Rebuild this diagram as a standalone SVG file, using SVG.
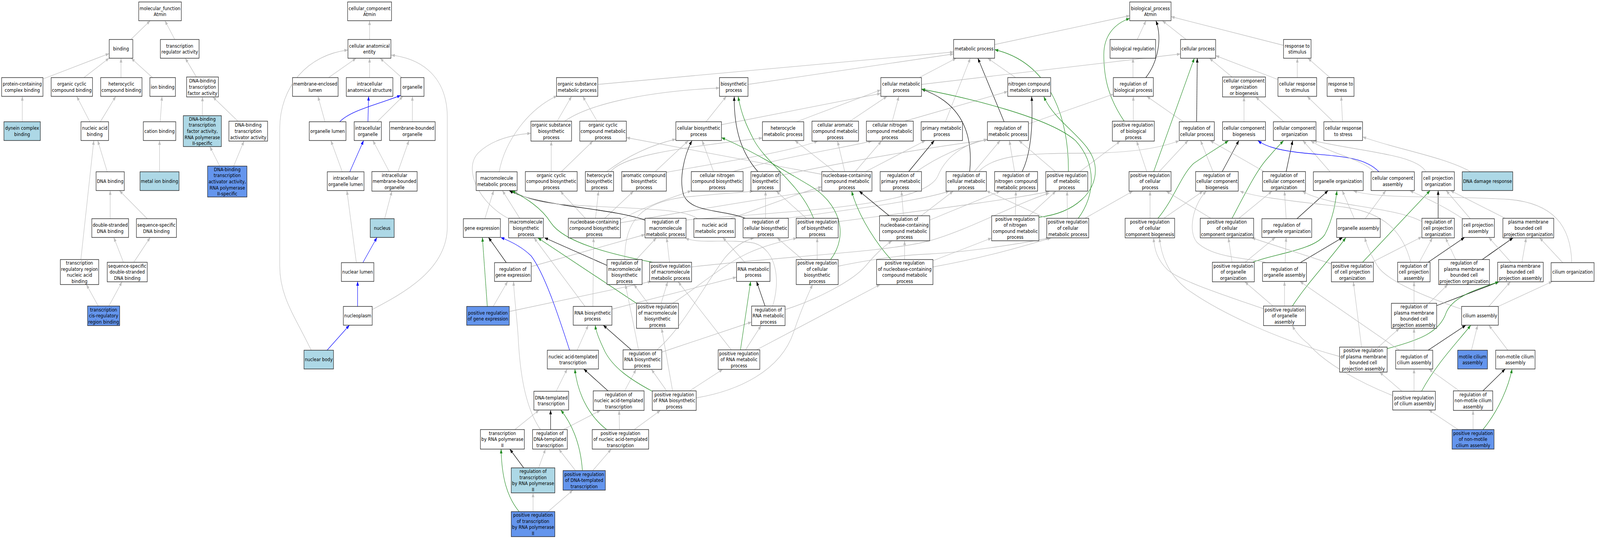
<svg xmlns="http://www.w3.org/2000/svg" width="4865" height="1379" viewBox="0 0 4865 1379">
<style>
.n rect{fill:#fff;stroke:#222;stroke-width:1.4}
.lb rect{fill:#add8e6}
.cb rect{fill:#6495ed}
text{font-family:"DejaVu Sans","Liberation Sans",sans-serif;font-size:13px;text-anchor:middle;fill:#000}
.e path{fill:none;stroke-width:1.3}
.e .g{stroke:#bebebe;marker-end:url(#ag)}
.e .k{stroke:#000;marker-end:url(#ak)}
.e .v{stroke:#228b22;marker-end:url(#av)}
.e .b{stroke:#0000ff;marker-end:url(#ab)}
</style>
<defs>
<marker id="ag" viewBox="0 0 11 8" refX="11" refY="4" markerWidth="11" markerHeight="8" markerUnits="userSpaceOnUse" orient="auto"><path d="M0,0L11,4L0,8z" fill="#bebebe"/></marker>
<marker id="ak" viewBox="0 0 11 8" refX="11" refY="4" markerWidth="11" markerHeight="8" markerUnits="userSpaceOnUse" orient="auto"><path d="M0,0L11,4L0,8z" fill="#000"/></marker>
<marker id="av" viewBox="0 0 11 8" refX="11" refY="4" markerWidth="11" markerHeight="8" markerUnits="userSpaceOnUse" orient="auto"><path d="M0,0L11,4L0,8z" fill="#228b22"/></marker>
<marker id="ab" viewBox="0 0 11 8" refX="11" refY="4" markerWidth="11" markerHeight="8" markerUnits="userSpaceOnUse" orient="auto"><path d="M0,0L11,4L0,8z" fill="#0000ff"/></marker>
</defs>
<rect x="0" y="0" width="4865" height="1379" fill="#fff"/>
<g id="diagram" transform="scale(0.8395,1)">
<g id="edges" class="e">
<path class="g" d="M399,101 L458,53"/>
<path class="g" d="M533,101 L503,53"/>
<path class="g" d="M131,202 L333,137"/>
<path class="g" d="M256,198.5 L333,148.5"/>
<path class="g" d="M369,198.5 L369,149"/>
<path class="g" d="M465,198.5 L400,149"/>
<path class="g" d="M599,197 L565,149"/>
<path class="g" d="M68,311.5 L68,246.5"/>
<path class="g" d="M274,311.5 L234,246.5"/>
<path class="g" d="M306,311.5 L353,246.5"/>
<path class="g" d="M488.5,311.5 L494,246.5"/>
<path class="g" d="M617,296 L617.5,248"/>
<path class="g" d="M725.5,310 L649,248"/>
<path class="g" d="M327,439.5 L298,359.5"/>
<path class="g" d="M486.5,439.5 L486.5,359.5"/>
<path class="g" d="M670,425 L640,375"/>
<path class="g" d="M712.5,425 L744,361"/>
<path class="g" d="M336,559.5 L336,487.5"/>
<path class="g" d="M449,559.5 L364,487.5"/>
<path class="g" d="M246.6,664 L286,359.5"/>
<path class="g" d="M376.4,671 L347,607.5"/>
<path class="g" d="M408,671 L458,607.5"/>
<path class="g" d="M299.6,783 L263.5,728"/>
<path class="g" d="M332,783 L372,721"/>
<path class="g" d="M1127,101 L1127,53"/>
<path class="g" d="M1002,198.5 L1086,149"/>
<path class="g" d="M1127,198.5 L1127,149"/>
<path class="g" d="M1225,198.5 L1159,149"/>
<path class="g" d="M991,311.5 L969.5,246.5"/>
<path class="b" d="M1036,311.5 C1070,282 1150,268 1222,244"/>
<path class="b" d="M1122,311.5 L1124,246.5"/>
<path class="g" d="M1150,311.5 L1228.6,246.5"/>
<path class="g" d="M1257.5,311.5 L1257.5,246.5"/>
<path class="g" d="M1043.7,439.5 L1009,359.5"/>
<path class="b" d="M1066.7,439.5 L1108.8,359.5"/>
<path class="g" d="M1187,439 L1137,359.5"/>
<path class="g" d="M1213.6,439 L1247,359.5"/>
<path class="g" d="M1173,559.5 L1195,489"/>
<path class="g" d="M1086.7,672 L1057.8,487.5"/>
<path class="b" d="M1106.5,672 L1149.5,607.5"/>
<path class="b" d="M1090.5,784 L1090.5,720"/>
<path class="g" d="M1135,792 C1230,750 1364,690 1364,580 L1364,300 C1364,200 1290,150 1193,141"/>
<path class="b" d="M997.5,896 L1065.5,832"/>
<path class="g" d="M949,896 C900,810 853,760 853,680 L853,330 C853,220 940,140 1061,128"/>
<path class="g" d="M3033,114 L3445,40"/>
<path class="g" d="M3468,101 L3494.6,53"/>
<path class="g" d="M3617,101 L3544.5,53"/>
<path class="g" d="M3914,116 L3571,42.5"/>
<path class="k" d="M3494,198.5 C3530,160 3545,100 3525,53"/>
<path class="v" d="M3428,310 C3380,250 3366,200 3366,140 C3366,90 3400,60 3445,47"/>
<path class="g" d="M1823,216 L2908,133"/>
<path class="g" d="M2281,216 L2908,138"/>
<path class="g" d="M2803,198.5 L2916,149"/>
<path class="g" d="M3097,198.5 L3012,149"/>
<path class="g" d="M2883,311.5 L2959,149"/>
<path class="k" d="M3062,311.5 L2982,149"/>
<path class="v" d="M3258,439 C3260,300 3200,160 3033,127"/>
<path class="g" d="M3455,198.5 L3455,149"/>
<path class="g" d="M3757,197 L3688,149"/>
<path class="g" d="M3897,203.5 L3707,142.3"/>
<path class="g" d="M3956,198.5 L3956,149"/>
<path class="g" d="M4055.5,198.5 L3988.5,149"/>
<path class="g" d="M2810,216 L3600,138"/>
<path class="k" d="M3649,311.5 L3651,149"/>
<path class="g" d="M3608.5,311.5 L3497,246.5"/>
<path class="g" d="M3136,317 L3395,241"/>
<path class="g" d="M1699,310 L1743,246.5"/>
<path class="g" d="M1722,310 C1790,270 1950,235 2194,225"/>
<path class="g" d="M1821,310 L1777,246.5"/>
<path class="g" d="M2153,311.5 L2215,246.5"/>
<path class="g" d="M2200,319 L2686,239"/>
<path class="g" d="M2429,311.5 L2686,230"/>
<path class="g" d="M2592,310 L2705,246.5"/>
<path class="g" d="M2721,310 L2741,246.5"/>
<path class="g" d="M2759,310 L3073,234"/>
<path class="g" d="M3456,310 L3456,246.5"/>
<path class="g" d="M3793.5,311.5 L3793.5,248"/>
<path class="g" d="M3915,311.5 L3829,248"/>
<path class="g" d="M4066,311.5 L3986,246.5"/>
<path class="g" d="M4094,311.5 L4090,246.5"/>
<path class="g" d="M1522,439.5 C1540,360 1610,280 1699,245"/>
<path class="g" d="M1681,439 L1681,361"/>
<path class="g" d="M1712,439 L1808,361"/>
<path class="g" d="M1862,439 C1900,400 2050,380 2325,353"/>
<path class="g" d="M1850,439 C1920,395 1990,370 2061,356"/>
<path class="g" d="M1998,439 L2099,360"/>
<path class="g" d="M2031,441 C2200,415 2400,390 2494,361"/>
<path class="g" d="M2176,439 L2141,359.5"/>
<path class="g" d="M2235,439 C2400,400 2560,380 2659,361"/>
<path class="k" d="M2311,439 C2260,390 2238,330 2239,247"/>
<path class="g" d="M2379,449 C2600,410 2850,375 3011,358"/>
<path class="g" d="M2545,439 L2424,359.5"/>
<path class="g" d="M2576,439 L2554,361"/>
<path class="g" d="M2608,439 L2688,361"/>
<path class="g" d="M2640,439 L2822,359.5"/>
<path class="g" d="M2506,446 L1910,352"/>
<path class="k" d="M2771,439 L2849,359.5"/>
<path class="g" d="M2795,439 C2860,400 2940,372 3011,356"/>
<path class="k" d="M2957,439 C2970,330 2920,260 2810,228"/>
<path class="g" d="M2971,439 L3050,359.5"/>
<path class="g" d="M2985,439 C3030,395 3150,392 3300,392 C3450,392 3540,378 3596,360"/>
<path class="k" d="M3117,439 C3145,390 3150,320 3146,247"/>
<path class="g" d="M3094,439 L3078,359.5"/>
<path class="g" d="M3218,439 L3107,359.5"/>
<path class="g" d="M3293,439 L3416,361"/>
<path class="v" d="M3518,439 L3642,149"/>
<path class="g" d="M3535,439 L3623,359.5"/>
<path class="g" d="M3497,439 L3466,361"/>
<path class="k" d="M3727,439 L3778,359.5"/>
<path class="g" d="M3699,439 L3661,359.5"/>
<path class="k" d="M3922,439 L3942,359.5"/>
<path class="g" d="M3855,439 L3690,359.5"/>
<path class="g" d="M4056,439.5 L3973,359.5"/>
<path class="b" d="M4205,439.5 C4160,400 4080,400 3980,392 C3900,385 3860,375 3836,360"/>
<path class="g" d="M4190,439.5 C4150,405 4060,395 3997,360"/>
<path class="g" d="M4348,439.5 C4320,395 4150,388 4005,360"/>
<path class="g" d="M4485,439.5 C4400,400 4250,380 4155,350"/>
<path class="g" d="M1478.5,559.5 L1505.5,487.5"/>
<path class="g" d="M1585,558.5 L1532,487.5"/>
<path class="g" d="M1551,559 C1460,520 1410,430 1460,390 C1500,358 1560,345 1619,341"/>
<path class="g" d="M1785,558.5 L1708.5,489"/>
<path class="g" d="M1816,558.5 L1825,489"/>
<path class="g" d="M1844,558.5 L1932,489"/>
<path class="g" d="M1891,563 C1960,530 2050,505 2108,488"/>
<path class="g" d="M1892,570 C2100,540 2350,505 2506,486"/>
<path class="k" d="M1967,563 C1850,530 1650,530 1553,488"/>
<path class="g" d="M2228,559 C2330,530 2430,495 2506,478"/>
<path class="g" d="M2126,559 C2080,530 1900,535 1700,522 C1620,515 1585,500 1567,488"/>
<path class="g" d="M2092,563 C2400,540 2820,530 2860,450 C2890,390 2960,362 3011,358"/>
<path class="k" d="M2273,558.5 C2200,535 2110,545 2085,500 C2070,460 2085,400 2110,360"/>
<path class="g" d="M2334.5,558.5 L2334.5,489"/>
<path class="g" d="M2394,559 C2600,535 2800,515 2895,489"/>
<path class="v" d="M2481,558.5 C2440,470 2340,420 2300,360 C2275,320 2260,290 2251,247"/>
<path class="g" d="M2459,558.5 L2367,489"/>
<path class="g" d="M2556,567 C2800,540 3050,515 3200,490"/>
<path class="k" d="M2711.5,552 L2620,489"/>
<path class="g" d="M2755,552 L2749,489"/>
<path class="g" d="M2809,552 L2907,489"/>
<path class="g" d="M2835,563 L3050,489"/>
<path class="v" d="M3167,556 C3280,545 3345,490 3340,430 C3335,360 3220,320 3183,247"/>
<path class="g" d="M3096,552 L3098,489"/>
<path class="g" d="M3138,552 L3220,489"/>
<path class="v" d="M3288,558.5 C3340,500 3345,420 3280,360 C3200,300 2950,250 2810,228"/>
<path class="g" d="M3192,559 L3008,488"/>
<path class="g" d="M3255,558.5 L3254,489"/>
<path class="g" d="M3308.5,558.5 L3454.5,489"/>
<path class="v" d="M3531,558.5 C3580,510 3600,450 3640,418 C3680,395 3720,375 3746,360"/>
<path class="g" d="M3549,558.5 L3668.5,489"/>
<path class="g" d="M3507,558.5 L3507,489"/>
<path class="v" d="M3757,558.5 C3800,490 3830,440 3860,410 C3880,390 3900,372 3914,360"/>
<path class="g" d="M3778,558.5 L3879,489"/>
<path class="g" d="M3692.5,558.5 L3556,489"/>
<path class="k" d="M3955,559.5 L4050,487.5"/>
<path class="g" d="M3922,559.5 L3917,489"/>
<path class="g" d="M4130,559.5 L4093,487.5"/>
<path class="g" d="M4163,559.5 L4226,487.5"/>
<path class="k" d="M4385.5,558.5 L4385.5,487.5"/>
<path class="g" d="M4336,567 C4280,540 4150,530 4060,515 C4010,505 3985,497 3972,489"/>
<path class="g" d="M4483.5,559.5 L4410,487.5"/>
<path class="g" d="M4460,559.5 C4400,525 4330,500 4299,487.5"/>
<path class="g" d="M4590,558.5 L4423,487.5"/>
<path class="k" d="M1544,672 L1489.6,607.5"/>
<path class="g" d="M1620,682 L1967,600"/>
<path class="k" d="M1851,679 L1660,608"/>
<path class="g" d="M1940,664 L2001.7,608.5"/>
<path class="g" d="M1905,664 C1905,560 1960,520 2080,505 C2200,495 2270,492 2297,489"/>
<path class="v" d="M1990,671 C1860,650 1720,620 1680,570 C1650,530 1600,505 1560,488"/>
<path class="g" d="M2041.6,671 L2033,608.5"/>
<path class="g" d="M2109,683 C2400,655 2700,645 2830,617 C2950,590 3100,520 3200,494"/>
<path class="g" d="M2272,672 L2204,607.5"/>
<path class="v" d="M2533,664 C2590,600 2560,520 2470,475 C2380,430 2280,380 2200,352"/>
<path class="g" d="M2447,664 L2370,608.5"/>
<path class="g" d="M2492,664 L2492,608.5"/>
<path class="g" d="M2556,681 C2650,665 2750,652 2830,650 C2950,645 3100,625 3200,609"/>
<path class="v" d="M2717,664 C2680,630 2620,560 2597,489"/>
<path class="g" d="M2758.5,664 L2758.5,616"/>
<path class="g" d="M2845,683 C3000,660 3120,630 3205,609"/>
<path class="g" d="M2845,667 L3024,609"/>
<path class="v" d="M3820,671 C3880,650 4010,640 4040,600 C4065,560 4072,520 4077,488"/>
<path class="g" d="M3797,671 L3889,607.5"/>
<path class="g" d="M3757,671 L3746,608.5"/>
<path class="k" d="M3965,672 L4094.5,607.5"/>
<path class="g" d="M3919,672 L3922,607.5"/>
<path class="g" d="M3859,671 C3800,660 3700,660 3650,620 C3620,590 3640,520 3679,489"/>
<path class="v" d="M4155,671 L4361,487.5"/>
<path class="g" d="M4184,671 L4336,606"/>
<path class="g" d="M4060,675 L3817,608.5"/>
<path class="k" d="M4355,671 L4466,607.5"/>
<path class="g" d="M4328,671 L4368,608.5"/>
<path class="g" d="M4302,671 C4280,600 4230,545 4100,530 C3950,515 3830,505 3781,489"/>
<path class="k" d="M4520,664 L4614,608.5"/>
<path class="g" d="M4439,664 L4408,608.5"/>
<path class="g" d="M4641,671 L4654,608.5"/>
<path class="g" d="M4607.5,671 L4540,607.5"/>
<path class="g" d="M4765.5,672 L4695,608.5"/>
<path class="g" d="M4793,672 C4790,580 4740,520 4600,510 C4400,500 4200,510 4127,488"/>
<path class="v" d="M1486,784 L1471,607.5"/>
<path class="g" d="M1504,784 L1548,720"/>
<path class="g" d="M1553,797 L1986,720"/>
<path class="g" d="M1866,791 L2246,709"/>
<path class="g" d="M1808,784 L1810,608.5"/>
<path class="g" d="M1784,784 L1628.5,608.5"/>
<path class="v" d="M1941,776 L1640,608.5"/>
<path class="g" d="M1976,776 L1933,728"/>
<path class="g" d="M2016,776 L2036,721"/>
<path class="g" d="M2051,776 C2120,740 2200,680 2280,648 C2340,625 2400,615 2430,609"/>
<path class="k" d="M2333,783 L2307,720"/>
<path class="g" d="M2356,783 C2380,720 2370,640 2300,622 C2220,610 2130,625 2090,609"/>
<path class="g" d="M2394,792 C2480,770 2600,720 2640,680 C2680,640 2705,625 2720,616"/>
<path class="v" d="M3941,783 C3990,720 4060,660 4104,608"/>
<path class="g" d="M3917,783 L3917,720"/>
<path class="g" d="M3882,783 L3796,721"/>
<path class="g" d="M3853,790 C3750,760 3600,720 3560,690 C3530,665 3520,640 3518,608.5"/>
<path class="k" d="M4381,782 L4571,721"/>
<path class="g" d="M4312,776 L4312,721"/>
<path class="g" d="M4357,776 L4415,728"/>
<path class="g" d="M4540,784 L4606,721"/>
<path class="g" d="M4569,784 L4734,720"/>
<path class="g" d="M4457,791 C4350,760 4230,720 4200,680 C4180,650 4168,630 4162,607.5"/>
<path class="g" d="M1760,896 L1794,832"/>
<path class="b" d="M1737,896 C1700,800 1660,700 1620,655 C1590,630 1550,615 1527,607.5"/>
<path class="k" d="M1925,895 L1839.5,832"/>
<path class="g" d="M1947,895 C1930,820 1915,760 1907,728"/>
<path class="g" d="M2017.5,901 L2292,824"/>
<path class="g" d="M2003,895 C2080,840 2140,740 2210,660 C2240,630 2270,615 2300,608.5"/>
<path class="v" d="M2258,895 L2289,720"/>
<path class="g" d="M2273.5,895 L2321,833"/>
<path class="g" d="M2230,895 L2068,721"/>
<path class="g" d="M2307,895 L2684,728"/>
<path class="v" d="M4230,892 C4330,870 4390,850 4410,800 C4430,760 4500,740 4571,721"/>
<path class="g" d="M4203,888 L4267.5,840"/>
<path class="g" d="M4152,888 L4127,721"/>
<path class="g" d="M4085,912 C3900,870 3720,800 3620,740 C3560,700 3540,650 3536,608.5"/>
<path class="k" d="M4355,896 L4470,832"/>
<path class="g" d="M4312,896 L4312,840"/>
<path class="g" d="M4267.5,896 L3964,720"/>
<path class="g" d="M4487,896 L4506,832"/>
<path class="g" d="M4598,896 L4540,832"/>
<path class="g" d="M1696,1001 L1729.6,944"/>
<path class="k" d="M1854,1000 L1780,944"/>
<path class="g" d="M1904.7,1000 L1939.7,945"/>
<path class="v" d="M1989,1001 C1920,970 1870,940 1845,900 C1828,870 1818,850 1815,832"/>
<path class="g" d="M2033,1000 L1986.4,945"/>
<path class="g" d="M2103,1000 L2204,945"/>
<path class="g" d="M2051,1000 L2017.6,840"/>
<path class="g" d="M2123,1018 C2250,1000 2380,950 2420,850 C2440,800 2460,760 2478,728"/>
<path class="v" d="M4335,1001 C4380,930 4450,870 4485,832"/>
<path class="g" d="M4312,1001 L4312,944"/>
<path class="g" d="M4275,1001 L4207,952"/>
<path class="g" d="M4247,1012 C4150,980 4040,930 3990,880 C3960,860 3948,845 3941,833"/>
<path class="k" d="M4522,1000 L4590,944"/>
<path class="g" d="M4450,1000 L4357,944"/>
<path class="g" d="M1570,1099 L1644,1049"/>
<path class="k" d="M1679,1099 L1679,1049"/>
<path class="g" d="M1718,1099 L1831,1050"/>
<path class="g" d="M1648,1099 C1600,1040 1585,950 1580,860 C1575,800 1568,760 1566,720"/>
<path class="v" d="M1850,1099 C1790,1060 1760,1000 1753,944"/>
<path class="g" d="M1889,1099 L1888,1050"/>
<path class="g" d="M1934,1099 L2014,1050"/>
<path class="v" d="M4522,1099 C4570,1050 4600,990 4611,944"/>
<path class="g" d="M4492,1099 L4492,1050"/>
<path class="g" d="M4446.5,1099 L4357,1049"/>
<path class="k" d="M1597,1197 L1554.6,1149"/>
<path class="g" d="M1642.5,1197 L1663.5,1149"/>
<path class="v" d="M1776,1204 C1770,1130 1740,1080 1710,1049"/>
<path class="g" d="M1755,1204 L1704,1149"/>
<path class="g" d="M1807.5,1204 L1864,1149"/>
<path class="v" d="M1583,1309 C1545,1270 1530,1220 1528,1149"/>
<path class="g" d="M1625.5,1309 L1625.5,1261"/>
<path class="g" d="M1671,1309 L1747,1254"/>
</g>
<g id="n_mf" class="n"><rect x="423" y="5" width="130" height="48"/><text x="488" y="25.7"><tspan x="488">molecular_function</tspan><tspan x="488" dy="15.6">Atmin</tspan></text></g>
<g id="n_binding" class="n"><rect x="333" y="101" width="72" height="48"/><text x="369" y="129.5">binding</text></g>
<g id="n_tra" class="n"><rect x="489" y="101" width="118" height="48"/><text x="548" y="121.7"><tspan x="548">transcription</tspan><tspan x="548" dy="15.6">regulator activity</tspan></text></g>
<g id="n_pccb" class="n"><rect x="5" y="198.5" width="126" height="48"/><text x="68" y="219.2"><tspan x="68">protein-containing</tspan><tspan x="68" dy="15.6">complex binding</tspan></text></g>
<g id="n_occb" class="n"><rect x="156" y="198.5" width="126" height="48"/><text x="219" y="219.2"><tspan x="219">organic cyclic</tspan><tspan x="219" dy="15.6">compound binding</tspan></text></g>
<g id="n_hcb" class="n"><rect x="307" y="198.5" width="126" height="48"/><text x="370" y="219.2"><tspan x="370">heterocyclic</tspan><tspan x="370" dy="15.6">compound binding</tspan></text></g>
<g id="n_ionb" class="n"><rect x="457" y="198.5" width="78" height="48"/><text x="496" y="227">ion binding</text></g>
<g id="n_dbtfa" class="n"><rect x="569" y="197" width="97" height="51"/><text x="617.5" y="211.4"><tspan x="617.5">DNA-binding</tspan><tspan x="617.5" dy="15.6">transcription</tspan><tspan x="617.5" dy="15.6">factor activity</tspan></text></g>
<g id="n_dyn" class="n lb"><rect x="12" y="311.5" width="111" height="48"/><text x="67.5" y="332.2"><tspan x="67.5">dynein complex</tspan><tspan x="67.5" dy="15.6">binding</tspan></text></g>
<g id="n_nab" class="n"><rect x="247" y="311.5" width="84" height="48"/><text x="289" y="332.2"><tspan x="289">nucleic acid</tspan><tspan x="289" dy="15.6">binding</tspan></text></g>
<g id="n_catb" class="n"><rect x="437" y="311.5" width="99" height="48"/><text x="486.5" y="340">cation binding</text></g>
<g id="n_dbtfa2" class="n lb"><rect x="559" y="296" width="116" height="79"/><text x="617" y="308.8"><tspan x="617">DNA-binding</tspan><tspan x="617" dy="15.6">transcription</tspan><tspan x="617" dy="15.6">factor activity,</tspan><tspan x="617" dy="15.6">RNA polymerase</tspan><tspan x="617" dy="15.6">II-specific</tspan></text></g>
<g id="n_dbta" class="n"><rect x="698" y="310" width="118" height="51"/><text x="757" y="324.4"><tspan x="757">DNA-binding</tspan><tspan x="757" dy="15.6">transcription</tspan><tspan x="757" dy="15.6">activator activity</tspan></text></g>
<g id="n_dnab" class="n"><rect x="293" y="439.5" width="86" height="48"/><text x="336" y="468">DNA binding</text></g>
<g id="n_metal" class="n lb"><rect x="427" y="439.5" width="119" height="48"/><text x="486.5" y="468">metal ion binding</text></g>
<g id="n_dbtaa2" class="n cb"><rect x="633" y="425" width="120" height="79"/><text x="693" y="437.8"><tspan x="693">DNA-binding</tspan><tspan x="693" dy="15.6">transcription</tspan><tspan x="693" dy="15.6">activator activity,</tspan><tspan x="693" dy="15.6">RNA polymerase</tspan><tspan x="693" dy="15.6">II-specific</tspan></text></g>
<g id="n_dsdna" class="n"><rect x="280" y="559.5" width="112" height="48"/><text x="336" y="580.2"><tspan x="336">double-stranded</tspan><tspan x="336" dy="15.6">DNA binding</tspan></text></g>
<g id="n_ssdna" class="n"><rect x="416" y="559.5" width="122" height="48"/><text x="477" y="580.2"><tspan x="477">sequence-specific</tspan><tspan x="477" dy="15.6">DNA binding</tspan></text></g>
<g id="n_trrnab" class="n"><rect x="184" y="664" width="117" height="64"/><text x="242.5" y="677.1"><tspan x="242.5">transcription</tspan><tspan x="242.5" dy="15.6">regulatory region</tspan><tspan x="242.5" dy="15.6">nucleic acid</tspan><tspan x="242.5" dy="15.6">binding</tspan></text></g>
<g id="n_ssds" class="n"><rect x="327" y="671" width="122" height="50"/><text x="388" y="684.9"><tspan x="388">sequence-specific</tspan><tspan x="388" dy="15.6">double-stranded</tspan><tspan x="388" dy="15.6">DNA binding</tspan></text></g>
<g id="n_tcrrb" class="n cb"><rect x="267" y="783" width="98" height="50"/><text x="316" y="796.9"><tspan x="316">transcription</tspan><tspan x="316" dy="15.6">cis-regulatory</tspan><tspan x="316" dy="15.6">region binding</tspan></text></g>
<g id="n_cc" class="n"><rect x="1060" y="5" width="134" height="48"/><text x="1127" y="25.7"><tspan x="1127">cellular_component</tspan><tspan x="1127" dy="15.6">Atmin</tspan></text></g>
<g id="n_cae" class="n"><rect x="1061" y="101" width="131" height="48"/><text x="1126.5" y="121.7"><tspan x="1126.5">cellular anatomical</tspan><tspan x="1126.5" dy="15.6">entity</tspan></text></g>
<g id="n_mel" class="n"><rect x="892" y="198.5" width="139" height="48"/><text x="961.5" y="219.2"><tspan x="961.5">membrane-enclosed</tspan><tspan x="961.5" dy="15.6">lumen</tspan></text></g>
<g id="n_ias" class="n"><rect x="1056" y="198.5" width="142" height="48"/><text x="1127" y="219.2"><tspan x="1127">intracellular</tspan><tspan x="1127" dy="15.6">anatomical structure</tspan></text></g>
<g id="n_org" class="n"><rect x="1222" y="198.5" width="71" height="48"/><text x="1257.5" y="227">organelle</text></g>
<g id="n_orglum" class="n"><rect x="943" y="311.5" width="112" height="48"/><text x="999" y="340">organelle lumen</text></g>
<g id="n_intorg" class="n"><rect x="1080" y="311.5" width="83" height="48"/><text x="1121.5" y="332.2"><tspan x="1121.5">intracellular</tspan><tspan x="1121.5" dy="15.6">organelle</tspan></text></g>
<g id="n_mbo" class="n"><rect x="1188" y="311.5" width="139" height="48"/><text x="1257.5" y="332.2"><tspan x="1257.5">membrane-bounded</tspan><tspan x="1257.5" dy="15.6">organelle</tspan></text></g>
<g id="n_iol" class="n"><rect x="998" y="439.5" width="112" height="48"/><text x="1054" y="460.2"><tspan x="1054">intracellular</tspan><tspan x="1054" dy="15.6">organelle lumen</tspan></text></g>
<g id="n_imbo" class="n"><rect x="1134" y="439" width="138" height="50"/><text x="1203" y="452.9"><tspan x="1203">intracellular</tspan><tspan x="1203" dy="15.6">membrane-bounded</tspan><tspan x="1203" dy="15.6">organelle</tspan></text></g>
<g id="n_nucleus" class="n lb"><rect x="1129" y="559.5" width="73" height="48"/><text x="1165.5" y="588">nucleus</text></g>
<g id="n_nuclum" class="n"><rect x="1041" y="672" width="99" height="48"/><text x="1090.5" y="700.5">nuclear lumen</text></g>
<g id="n_nucpl" class="n"><rect x="1047" y="784" width="88" height="48"/><text x="1091" y="812.5">nucleoplasm</text></g>
<g id="n_nucbody" class="n lb"><rect x="927" y="896" width="90" height="48"/><text x="972" y="924.5">nuclear body</text></g>
<g id="n_bp" class="n"><rect x="3445" y="5" width="126" height="48"/><text x="3508" y="25.7"><tspan x="3508">biological_process</tspan><tspan x="3508" dy="15.6">Atmin</tspan></text></g>
<g id="n_mp" class="n"><rect x="2908" y="101" width="125" height="48"/><text x="2970.5" y="129.5">metabolic process</text></g>
<g id="n_breg" class="n"><rect x="3385" y="101" width="139" height="48"/><text x="3454.5" y="129.5">biological regulation</text></g>
<g id="n_cp" class="n"><rect x="3600" y="101" width="107" height="48"/><text x="3653.5" y="129.5">cellular process</text></g>
<g id="n_rs" class="n"><rect x="3914" y="101" width="84" height="48"/><text x="3956" y="121.7"><tspan x="3956">response to</tspan><tspan x="3956" dy="15.6">stimulus</tspan></text></g>
<g id="n_osmp" class="n"><rect x="1697" y="198.5" width="126" height="48"/><text x="1760" y="219.2"><tspan x="1760">organic substance</tspan><tspan x="1760" dy="15.6">metabolic process</tspan></text></g>
<g id="n_bsp" class="n"><rect x="2194" y="198.5" width="87" height="48"/><text x="2237.5" y="219.2"><tspan x="2237.5">biosynthetic</tspan><tspan x="2237.5" dy="15.6">process</tspan></text></g>
<g id="n_cmp" class="n"><rect x="2686" y="198.5" width="124" height="48"/><text x="2748" y="219.2"><tspan x="2748">cellular metabolic</tspan><tspan x="2748" dy="15.6">process</tspan></text></g>
<g id="n_ncmp" class="n"><rect x="3073" y="198.5" width="131" height="48"/><text x="3138.5" y="219.2"><tspan x="3138.5">nitrogen compound</tspan><tspan x="3138.5" dy="15.6">metabolic process</tspan></text></g>
<g id="n_rbp" class="n"><rect x="3395" y="198.5" width="122" height="48"/><text x="3456" y="219.2"><tspan x="3456">regulation of</tspan><tspan x="3456" dy="15.6">biological process</tspan></text></g>
<g id="n_ccob" class="n"><rect x="3728" y="197" width="131" height="51"/><text x="3793.5" y="211.4"><tspan x="3793.5">cellular component</tspan><tspan x="3793.5" dy="15.6">organization</tspan><tspan x="3793.5" dy="15.6">or biogenesis</tspan></text></g>
<g id="n_crs" class="n"><rect x="3897" y="198.5" width="118" height="48"/><text x="3956" y="219.2"><tspan x="3956">cellular response</tspan><tspan x="3956" dy="15.6">to stimulus</tspan></text></g>
<g id="n_rstress" class="n"><rect x="4047" y="198.5" width="82" height="48"/><text x="4088" y="219.2"><tspan x="4088">response to</tspan><tspan x="4088" dy="15.6">stress</tspan></text></g>
<g id="n_osbp" class="n"><rect x="1619" y="310" width="124" height="51"/><text x="1681" y="324.4"><tspan x="1681">organic substance</tspan><tspan x="1681" dy="15.6">biosynthetic</tspan><tspan x="1681" dy="15.6">process</tspan></text></g>
<g id="n_occmp" class="n"><rect x="1768" y="310" width="142" height="51"/><text x="1839" y="324.4"><tspan x="1839">organic cyclic</tspan><tspan x="1839" dy="15.6">compound metabolic</tspan><tspan x="1839" dy="15.6">process</tspan></text></g>
<g id="n_cbp" class="n"><rect x="2061" y="311.5" width="139" height="48"/><text x="2130.5" y="332.2"><tspan x="2130.5">cellular biosynthetic</tspan><tspan x="2130.5" dy="15.6">process</tspan></text></g>
<g id="n_hmp" class="n"><rect x="2325" y="311.5" width="126" height="48"/><text x="2388" y="332.2"><tspan x="2388">heterocycle</tspan><tspan x="2388" dy="15.6">metabolic process</tspan></text></g>
<g id="n_camp" class="n"><rect x="2476" y="310" width="142" height="51"/><text x="2547" y="324.4"><tspan x="2547">cellular aromatic</tspan><tspan x="2547" dy="15.6">compound metabolic</tspan><tspan x="2547" dy="15.6">process</tspan></text></g>
<g id="n_cncmp" class="n"><rect x="2642" y="310" width="143" height="51"/><text x="2713.5" y="324.4"><tspan x="2713.5">cellular nitrogen</tspan><tspan x="2713.5" dy="15.6">compound metabolic</tspan><tspan x="2713.5" dy="15.6">process</tspan></text></g>
<g id="n_pmp" class="n"><rect x="2809" y="311.5" width="126" height="48"/><text x="2872" y="332.2"><tspan x="2872">primary metabolic</tspan><tspan x="2872" dy="15.6">process</tspan></text></g>
<g id="n_rmp" class="n"><rect x="3011" y="311.5" width="125" height="48"/><text x="3073.5" y="332.2"><tspan x="3073.5">regulation of</tspan><tspan x="3073.5" dy="15.6">metabolic process</tspan></text></g>
<g id="n_prbp" class="n"><rect x="3392" y="310" width="128" height="51"/><text x="3456" y="324.4"><tspan x="3456">positive regulation</tspan><tspan x="3456" dy="15.6">of biological</tspan><tspan x="3456" dy="15.6">process</tspan></text></g>
<g id="n_rcp" class="n"><rect x="3596" y="311.5" width="107" height="48"/><text x="3649.5" y="332.2"><tspan x="3649.5">regulation of</tspan><tspan x="3649.5" dy="15.6">cellular process</tspan></text></g>
<g id="n_ccb" class="n"><rect x="3728" y="311.5" width="131" height="48"/><text x="3793.5" y="332.2"><tspan x="3793.5">cellular component</tspan><tspan x="3793.5" dy="15.6">biogenesis</tspan></text></g>
<g id="n_cco" class="n"><rect x="3883" y="311.5" width="130" height="48"/><text x="3948" y="332.2"><tspan x="3948">cellular component</tspan><tspan x="3948" dy="15.6">organization</tspan></text></g>
<g id="n_crstress" class="n"><rect x="4037" y="311.5" width="118" height="48"/><text x="4096" y="332.2"><tspan x="4096">cellular response</tspan><tspan x="4096" dy="15.6">to stress</tspan></text></g>
<g id="n_mmp" class="n"><rect x="1452" y="439.5" width="125" height="48"/><text x="1514.5" y="460.2"><tspan x="1514.5">macromolecule</tspan><tspan x="1514.5" dy="15.6">metabolic process</tspan></text></g>
<g id="n_occbp" class="n"><rect x="1602" y="439" width="158" height="50"/><text x="1681" y="452.9"><tspan x="1681">organic cyclic</tspan><tspan x="1681" dy="15.6">compound biosynthetic</tspan><tspan x="1681" dy="15.6">process</tspan></text></g>
<g id="n_hbp" class="n"><rect x="1785" y="439" width="86" height="50"/><text x="1828" y="452.9"><tspan x="1828">heterocycle</tspan><tspan x="1828" dy="15.6">biosynthetic</tspan><tspan x="1828" dy="15.6">process</tspan></text></g>
<g id="n_acbp" class="n"><rect x="1896" y="439" width="136" height="50"/><text x="1964" y="452.9"><tspan x="1964">aromatic compound</tspan><tspan x="1964" dy="15.6">biosynthetic</tspan><tspan x="1964" dy="15.6">process</tspan></text></g>
<g id="n_cncbp" class="n"><rect x="2108" y="439" width="158" height="50"/><text x="2187" y="452.9"><tspan x="2187">cellular nitrogen</tspan><tspan x="2187" dy="15.6">compound biosynthetic</tspan><tspan x="2187" dy="15.6">process</tspan></text></g>
<g id="n_rbsp" class="n"><rect x="2290" y="439" width="89" height="50"/><text x="2334.5" y="452.9"><tspan x="2334.5">regulation of</tspan><tspan x="2334.5" dy="15.6">biosynthetic</tspan><tspan x="2334.5" dy="15.6">process</tspan></text></g>
<g id="n_nccmp" class="n"><rect x="2506" y="439" width="153" height="50"/><text x="2582.5" y="452.9"><tspan x="2582.5">nucleobase-containing</tspan><tspan x="2582.5" dy="15.6">compound metabolic</tspan><tspan x="2582.5" dy="15.6">process</tspan></text></g>
<g id="n_rpmp" class="n"><rect x="2684" y="439" width="126" height="50"/><text x="2747" y="452.9"><tspan x="2747">regulation of</tspan><tspan x="2747" dy="15.6">primary metabolic</tspan><tspan x="2747" dy="15.6">process</tspan></text></g>
<g id="n_rcmp" class="n"><rect x="2885" y="439" width="123" height="50"/><text x="2946.5" y="452.9"><tspan x="2946.5">regulation of</tspan><tspan x="2946.5" dy="15.6">cellular metabolic</tspan><tspan x="2946.5" dy="15.6">process</tspan></text></g>
<g id="n_rncmp" class="n"><rect x="3033" y="439" width="131" height="50"/><text x="3098.5" y="452.9"><tspan x="3098.5">regulation of</tspan><tspan x="3098.5" dy="15.6">nitrogen compound</tspan><tspan x="3098.5" dy="15.6">metabolic process</tspan></text></g>
<g id="n_prmp" class="n"><rect x="3189" y="439" width="128" height="50"/><text x="3253" y="452.9"><tspan x="3253">positive regulation</tspan><tspan x="3253" dy="15.6">of metabolic</tspan><tspan x="3253" dy="15.6">process</tspan></text></g>
<g id="n_prcp" class="n"><rect x="3443" y="439" width="128" height="50"/><text x="3507" y="452.9"><tspan x="3507">positive regulation</tspan><tspan x="3507" dy="15.6">of cellular</tspan><tspan x="3507" dy="15.6">process</tspan></text></g>
<g id="n_rccb" class="n"><rect x="3646" y="439" width="130" height="50"/><text x="3711" y="452.9"><tspan x="3711">regulation of</tspan><tspan x="3711" dy="15.6">cellular component</tspan><tspan x="3711" dy="15.6">biogenesis</tspan></text></g>
<g id="n_rcco" class="n"><rect x="3850" y="439" width="131" height="50"/><text x="3915.5" y="452.9"><tspan x="3915.5">regulation of</tspan><tspan x="3915.5" dy="15.6">cellular component</tspan><tspan x="3915.5" dy="15.6">organization</tspan></text></g>
<g id="n_oo" class="n"><rect x="4005" y="439.5" width="152" height="48"/><text x="4081" y="468">organelle organization</text></g>
<g id="n_cca" class="n"><rect x="4181" y="439.5" width="132" height="48"/><text x="4247" y="460.2"><tspan x="4247">cellular component</tspan><tspan x="4247" dy="15.6">assembly</tspan></text></g>
<g id="n_cpo" class="n"><rect x="4336" y="439.5" width="99" height="48"/><text x="4385.5" y="460.2"><tspan x="4385.5">cell projection</tspan><tspan x="4385.5" dy="15.6">organization</tspan></text></g>
<g id="n_ddr" class="n lb"><rect x="4459" y="439.5" width="154" height="48"/><text x="4536" y="468">DNA damage response</text></g>
<g id="n_ge" class="n"><rect x="1413" y="559.5" width="113" height="48"/><text x="1469.5" y="588">gene expression</text></g>
<g id="n_mbp" class="n"><rect x="1551" y="558.5" width="106" height="50"/><text x="1604" y="572.4"><tspan x="1604">macromolecule</tspan><tspan x="1604" dy="15.6">biosynthetic</tspan><tspan x="1604" dy="15.6">process</tspan></text></g>
<g id="n_nccbp" class="n"><rect x="1733" y="558.5" width="159" height="50"/><text x="1812.5" y="572.4"><tspan x="1812.5">nucleobase-containing</tspan><tspan x="1812.5" dy="15.6">compound biosynthetic</tspan><tspan x="1812.5" dy="15.6">process</tspan></text></g>
<g id="n_rmmp" class="n"><rect x="1967" y="558.5" width="125" height="50"/><text x="2029.5" y="572.4"><tspan x="2029.5">regulation of</tspan><tspan x="2029.5" dy="15.6">macromolecule</tspan><tspan x="2029.5" dy="15.6">metabolic process</tspan></text></g>
<g id="n_namp" class="n"><rect x="2116" y="559.5" width="126" height="48"/><text x="2179" y="580.2"><tspan x="2179">nucleic acid</tspan><tspan x="2179" dy="15.6">metabolic process</tspan></text></g>
<g id="n_rcbp" class="n"><rect x="2266" y="558.5" width="138" height="50"/><text x="2335" y="572.4"><tspan x="2335">regulation of</tspan><tspan x="2335" dy="15.6">cellular biosynthetic</tspan><tspan x="2335" dy="15.6">process</tspan></text></g>
<g id="n_prbsp" class="n"><rect x="2428" y="558.5" width="128" height="50"/><text x="2492" y="572.4"><tspan x="2492">positive regulation</tspan><tspan x="2492" dy="15.6">of biosynthetic</tspan><tspan x="2492" dy="15.6">process</tspan></text></g>
<g id="n_rnccmp" class="n"><rect x="2682" y="552" width="153" height="64"/><text x="2758.5" y="564.6"><tspan x="2758.5">regulation of</tspan><tspan x="2758.5" dy="15.6">nucleobase-containing</tspan><tspan x="2758.5" dy="15.6">compound metabolic</tspan><tspan x="2758.5" dy="15.6">process</tspan></text></g>
<g id="n_prncmp" class="n"><rect x="3024" y="552" width="144" height="64"/><text x="3096" y="564.6"><tspan x="3096">positive regulation</tspan><tspan x="3096" dy="15.6">of nitrogen</tspan><tspan x="3096" dy="15.6">compound metabolic</tspan><tspan x="3096" dy="15.6">process</tspan></text></g>
<g id="n_prcmp" class="n"><rect x="3192" y="558.5" width="128" height="50"/><text x="3256" y="572.4"><tspan x="3256">positive regulation</tspan><tspan x="3256" dy="15.6">of cellular</tspan><tspan x="3256" dy="15.6">metabolic process</tspan></text></g>
<g id="n_prccb" class="n"><rect x="3431" y="558.5" width="151" height="50"/><text x="3506.5" y="572.4"><tspan x="3506.5">positive regulation</tspan><tspan x="3506.5" dy="15.6">of cellular</tspan><tspan x="3506.5" dy="15.6">component biogenesis</tspan></text></g>
<g id="n_prcco" class="n"><rect x="3660" y="558.5" width="163" height="50"/><text x="3741.5" y="572.4"><tspan x="3741.5">positive regulation</tspan><tspan x="3741.5" dy="15.6">of cellular</tspan><tspan x="3741.5" dy="15.6">component organization</tspan></text></g>
<g id="n_roo" class="n"><rect x="3848" y="559.5" width="152" height="48"/><text x="3924" y="580.2"><tspan x="3924">regulation of</tspan><tspan x="3924" dy="15.6">organelle organization</tspan></text></g>
<g id="n_oa" class="n"><rect x="4076" y="559.5" width="133" height="48"/><text x="4142.5" y="588">organelle assembly</text></g>
<g id="n_rcpo" class="n"><rect x="4336" y="558.5" width="99" height="50"/><text x="4385.5" y="572.4"><tspan x="4385.5">regulation of</tspan><tspan x="4385.5" dy="15.6">cell projection</tspan><tspan x="4385.5" dy="15.6">organization</tspan></text></g>
<g id="n_cpa" class="n"><rect x="4459" y="559.5" width="98" height="48"/><text x="4508" y="580.2"><tspan x="4508">cell projection</tspan><tspan x="4508" dy="15.6">assembly</tspan></text></g>
<g id="n_pmbcpo" class="n"><rect x="4583" y="558.5" width="155" height="50"/><text x="4660.5" y="572.4"><tspan x="4660.5">plasma membrane</tspan><tspan x="4660.5" dy="15.6">bounded cell</tspan><tspan x="4660.5" dy="15.6">projection organization</tspan></text></g>
<g id="n_rge" class="n"><rect x="1508" y="672" width="112" height="48"/><text x="1564" y="692.7"><tspan x="1564">regulation of</tspan><tspan x="1564" dy="15.6">gene expression</tspan></text></g>
<g id="n_rmbp" class="n"><rect x="1851" y="664" width="107" height="64"/><text x="1904.5" y="677.1"><tspan x="1904.5">regulation of</tspan><tspan x="1904.5" dy="15.6">macromolecule</tspan><tspan x="1904.5" dy="15.6">biosynthetic</tspan><tspan x="1904.5" dy="15.6">process</tspan></text></g>
<g id="n_prmmp" class="n"><rect x="1981" y="671" width="128" height="50"/><text x="2045" y="684.9"><tspan x="2045">positive regulation</tspan><tspan x="2045" dy="15.6">of macromolecule</tspan><tspan x="2045" dy="15.6">metabolic process</tspan></text></g>
<g id="n_rnamp" class="n"><rect x="2246" y="672" width="102" height="48"/><text x="2297" y="692.7"><tspan x="2297">RNA metabolic</tspan><tspan x="2297" dy="15.6">process</tspan></text></g>
<g id="n_prcbp" class="n"><rect x="2428" y="664" width="128" height="64"/><text x="2492" y="677.1"><tspan x="2492">positive regulation</tspan><tspan x="2492" dy="15.6">of cellular</tspan><tspan x="2492" dy="15.6">biosynthetic</tspan><tspan x="2492" dy="15.6">process</tspan></text></g>
<g id="n_prnccmp" class="n"><rect x="2673" y="664" width="172" height="64"/><text x="2759" y="677.1"><tspan x="2759">positive regulation</tspan><tspan x="2759" dy="15.6">of nucleobase-containing</tspan><tspan x="2759" dy="15.6">compound metabolic</tspan><tspan x="2759" dy="15.6">process</tspan></text></g>
<g id="n_proo" class="n"><rect x="3697" y="671" width="128" height="50"/><text x="3761" y="684.9"><tspan x="3761">positive regulation</tspan><tspan x="3761" dy="15.6">of organelle</tspan><tspan x="3761" dy="15.6">organization</tspan></text></g>
<g id="n_roa" class="n"><rect x="3850" y="672" width="134" height="48"/><text x="3917" y="692.7"><tspan x="3917">regulation of</tspan><tspan x="3917" dy="15.6">organelle assembly</tspan></text></g>
<g id="n_prcpo" class="n"><rect x="4060" y="671" width="128" height="50"/><text x="4124" y="684.9"><tspan x="4124">positive regulation</tspan><tspan x="4124" dy="15.6">of cell projection</tspan><tspan x="4124" dy="15.6">organization</tspan></text></g>
<g id="n_rcpa" class="n"><rect x="4262" y="671" width="99" height="50"/><text x="4311.5" y="684.9"><tspan x="4311.5">regulation of</tspan><tspan x="4311.5" dy="15.6">cell projection</tspan><tspan x="4311.5" dy="15.6">assembly</tspan></text></g>
<g id="n_rpmbcpo" class="n"><rect x="4387" y="664" width="155" height="64"/><text x="4464.5" y="677.1"><tspan x="4464.5">regulation of</tspan><tspan x="4464.5" dy="15.6">plasma membrane</tspan><tspan x="4464.5" dy="15.6">bounded cell</tspan><tspan x="4464.5" dy="15.6">projection organization</tspan></text></g>
<g id="n_pmbcpa" class="n"><rect x="4567" y="671" width="139" height="50"/><text x="4636.5" y="684.9"><tspan x="4636.5">plasma membrane</tspan><tspan x="4636.5" dy="15.6">bounded cell</tspan><tspan x="4636.5" dy="15.6">projection assembly</tspan></text></g>
<g id="n_ciliumorg" class="n"><rect x="4730" y="672" width="131" height="48"/><text x="4795.5" y="700.5">cilium organization</text></g>
<g id="n_prge" class="n cb"><rect x="1423" y="784" width="130" height="48"/><text x="1488" y="804.7"><tspan x="1488">positive regulation</tspan><tspan x="1488" dy="15.6">of gene expression</tspan></text></g>
<g id="n_rnabp" class="n"><rect x="1748" y="784" width="118" height="48"/><text x="1807" y="804.7"><tspan x="1807">RNA biosynthetic</tspan><tspan x="1807" dy="15.6">process</tspan></text></g>
<g id="n_prmbp" class="n"><rect x="1941" y="776" width="128" height="64"/><text x="2005" y="789.1"><tspan x="2005">positive regulation</tspan><tspan x="2005" dy="15.6">of macromolecule</tspan><tspan x="2005" dy="15.6">biosynthetic</tspan><tspan x="2005" dy="15.6">process</tspan></text></g>
<g id="n_rrnamp" class="n"><rect x="2292" y="783" width="102" height="50"/><text x="2343" y="796.9"><tspan x="2343">regulation of</tspan><tspan x="2343" dy="15.6">RNA metabolic</tspan><tspan x="2343" dy="15.6">process</tspan></text></g>
<g id="n_proa" class="n"><rect x="3853" y="783" width="128" height="50"/><text x="3917" y="796.9"><tspan x="3917">positive regulation</tspan><tspan x="3917" dy="15.6">of organelle</tspan><tspan x="3917" dy="15.6">assembly</tspan></text></g>
<g id="n_rpmbcpa" class="n"><rect x="4243" y="776" width="138" height="64"/><text x="4312" y="789.1"><tspan x="4312">regulation of</tspan><tspan x="4312" dy="15.6">plasma membrane</tspan><tspan x="4312" dy="15.6">bounded cell</tspan><tspan x="4312" dy="15.6">projection assembly</tspan></text></g>
<g id="n_ca" class="n"><rect x="4457" y="784" width="112" height="48"/><text x="4513" y="812.5">cilium assembly</text></g>
<g id="n_natt" class="n"><rect x="1669" y="896" width="156" height="48"/><text x="1747" y="916.7"><tspan x="1747">nucleic acid-templated</tspan><tspan x="1747" dy="15.6">transcription</tspan></text></g>
<g id="n_rrnabp" class="n"><rect x="1900" y="895" width="118" height="50"/><text x="1959" y="908.9"><tspan x="1959">regulation of</tspan><tspan x="1959" dy="15.6">RNA biosynthetic</tspan><tspan x="1959" dy="15.6">process</tspan></text></g>
<g id="n_prrnamp" class="n"><rect x="2190" y="895" width="127" height="50"/><text x="2253.5" y="908.9"><tspan x="2253.5">positive regulation</tspan><tspan x="2253.5" dy="15.6">of RNA metabolic</tspan><tspan x="2253.5" dy="15.6">process</tspan></text></g>
<g id="n_prpmbcpa" class="n"><rect x="4085" y="888" width="145" height="64"/><text x="4157.5" y="901.1"><tspan x="4157.5">positive regulation</tspan><tspan x="4157.5" dy="15.6">of plasma membrane</tspan><tspan x="4157.5" dy="15.6">bounded cell</tspan><tspan x="4157.5" dy="15.6">projection assembly</tspan></text></g>
<g id="n_rca" class="n"><rect x="4256" y="896" width="113" height="48"/><text x="4312.5" y="916.7"><tspan x="4312.5">regulation of</tspan><tspan x="4312.5" dy="15.6">cilium assembly</tspan></text></g>
<g id="n_mca" class="n cb"><rect x="4445" y="896" width="91" height="48"/><text x="4490.5" y="916.7"><tspan x="4490.5">motile cilium</tspan><tspan x="4490.5" dy="15.6">assembly</tspan></text></g>
<g id="n_nmca" class="n"><rect x="4561" y="896" width="120" height="48"/><text x="4621" y="916.7"><tspan x="4621">non-motile cilium</tspan><tspan x="4621" dy="15.6">assembly</tspan></text></g>
<g id="n_dtt" class="n"><rect x="1628" y="1001" width="106" height="48"/><text x="1681" y="1021.7"><tspan x="1681">DNA-templated</tspan><tspan x="1681" dy="15.6">transcription</tspan></text></g>
<g id="n_rnatt" class="n"><rect x="1809" y="1000" width="155" height="50"/><text x="1886.5" y="1013.9"><tspan x="1886.5">regulation of</tspan><tspan x="1886.5" dy="15.6">nucleic acid-templated</tspan><tspan x="1886.5" dy="15.6">transcription</tspan></text></g>
<g id="n_prrnabp" class="n"><rect x="1989" y="1000" width="134" height="50"/><text x="2056" y="1013.9"><tspan x="2056">positive regulation</tspan><tspan x="2056" dy="15.6">of RNA biosynthetic</tspan><tspan x="2056" dy="15.6">process</tspan></text></g>
<g id="n_prca" class="n"><rect x="4247" y="1001" width="130" height="48"/><text x="4312" y="1021.7"><tspan x="4312">positive regulation</tspan><tspan x="4312" dy="15.6">of cilium assembly</tspan></text></g>
<g id="n_rnmca" class="n"><rect x="4432" y="1000" width="120" height="50"/><text x="4492" y="1013.9"><tspan x="4492">regulation of</tspan><tspan x="4492" dy="15.6">non-motile cilium</tspan><tspan x="4492" dy="15.6">assembly</tspan></text></g>
<g id="n_trp2" class="n"><rect x="1465" y="1099" width="134" height="50"/><text x="1532" y="1112.9"><tspan x="1532">transcription</tspan><tspan x="1532" dy="15.6">by RNA polymerase</tspan><tspan x="1532" dy="15.6">II</tspan></text></g>
<g id="n_rdtt" class="n"><rect x="1624" y="1099" width="106" height="50"/><text x="1677" y="1112.9"><tspan x="1677">regulation of</tspan><tspan x="1677" dy="15.6">DNA-templated</tspan><tspan x="1677" dy="15.6">transcription</tspan></text></g>
<g id="n_prnatt" class="n"><rect x="1806" y="1099" width="172" height="50"/><text x="1892" y="1112.9"><tspan x="1892">positive regulation</tspan><tspan x="1892" dy="15.6">of nucleic acid-templated</tspan><tspan x="1892" dy="15.6">transcription</tspan></text></g>
<g id="n_prnmca" class="n cb"><rect x="4428" y="1099" width="128" height="50"/><text x="4492" y="1112.9"><tspan x="4492">positive regulation</tspan><tspan x="4492" dy="15.6">of non-motile</tspan><tspan x="4492" dy="15.6">cilium assembly</tspan></text></g>
<g id="n_rtrp2" class="n lb"><rect x="1559" y="1197" width="133" height="64"/><text x="1625.5" y="1210.1"><tspan x="1625.5">regulation of</tspan><tspan x="1625.5" dy="15.6">transcription</tspan><tspan x="1625.5" dy="15.6">by RNA polymerase</tspan><tspan x="1625.5" dy="15.6">II</tspan></text></g>
<g id="n_prdtt" class="n cb"><rect x="1717" y="1204" width="129" height="50"/><text x="1781.5" y="1217.9"><tspan x="1781.5">positive regulation</tspan><tspan x="1781.5" dy="15.6">of DNA-templated</tspan><tspan x="1781.5" dy="15.6">transcription</tspan></text></g>
<g id="n_prtrp2" class="n cb"><rect x="1559" y="1309" width="133" height="64"/><text x="1625.5" y="1322.1"><tspan x="1625.5">positive regulation</tspan><tspan x="1625.5" dy="15.6">of transcription</tspan><tspan x="1625.5" dy="15.6">by RNA polymerase</tspan><tspan x="1625.5" dy="15.6">II</tspan></text></g>
</g>
</svg>
